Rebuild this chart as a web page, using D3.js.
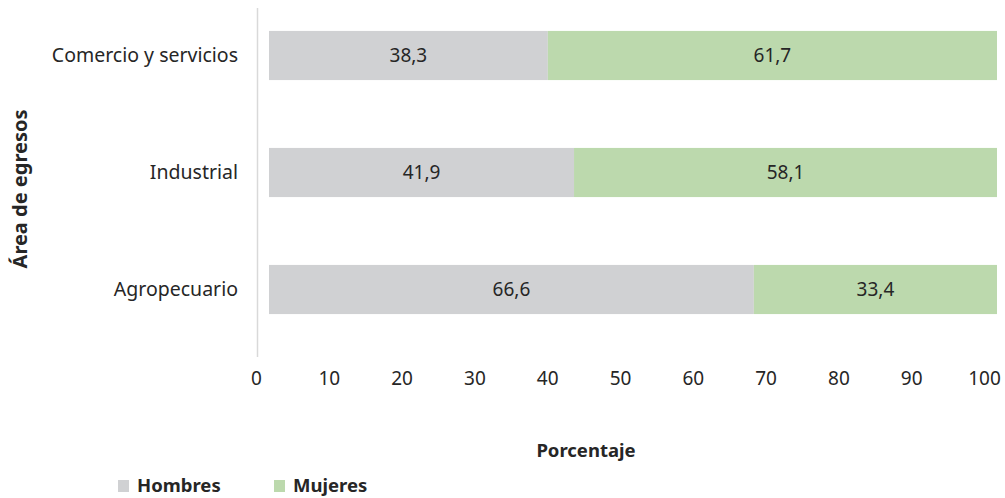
<!DOCTYPE html>
<html>
<head>
<meta charset="utf-8">
<script src="https://cdn.jsdelivr.net/npm/d3@7"></script>
<style>
  body { margin: 0; background: #fff; }
  svg text { font-family: "Noto Sans", "Open Sans", sans-serif; fill: #262626; }
</style>
</head>
<body>
<div id="chart"></div>
<script>
var categories = ['Comercio y servicios', 'Industrial', 'Agropecuario'];
var hombres = [38.3, 41.9, 66.6];
var mujeres = [61.7, 58.1, 33.4];
var seriesNames = ['Hombres', 'Mujeres'];
var tickValues = [0, 10, 20, 30, 40, 50, 60, 70, 80, 90, 100];

var width = 1005, height = 498;
var colors = ['#d0d1d3', '#bcd9ad'];

var svg = d3.select('#chart').append('svg')
  .attr('width', width)
  .attr('height', height);

var x = d3.scaleLinear().domain([0, 100]).range([269, 997]);
var y = d3.scaleBand().domain(categories).range([-3, 348]).paddingInner(0.58).paddingOuter(0.29);

var rows = categories.map(function (c, i) {
  return { cat: c, Hombres: hombres[i], Mujeres: mujeres[i] };
});
var stack = d3.stack().keys(seriesNames)(rows);

// vertical axis line
svg.append('line')
  .attr('x1', 257.5).attr('x2', 257.5)
  .attr('y1', 8).attr('y2', 357)
  .attr('stroke', '#d9d9d9').attr('stroke-width', 1.5);

var layer = svg.selectAll('.layer')
  .data(stack)
  .enter().append('g')
  .attr('class', 'layer')
  .attr('fill', function (d, i) { return colors[i]; });

layer.selectAll('rect')
  .data(function (d) { return d; })
  .enter().append('rect')
  .attr('x', function (d) { return x(d[0]); })
  .attr('y', function (d) { return y(d.data.cat); })
  .attr('width', function (d) { return x(d[1]) - x(d[0]); })
  .attr('height', y.bandwidth());

layer.selectAll('text')
  .data(function (d) { return d; })
  .enter().append('text')
  .attr('x', function (d) { return (x(d[0]) + x(d[1])) / 2; })
  .attr('y', function (d) { return y(d.data.cat) + y.bandwidth() / 2; })
  .attr('dy', '0.35em')
  .attr('text-anchor', 'middle')
  .style('font-size', '19px')
  .text(function (d) { return String((d[1] - d[0]).toFixed(1)).replace('.', ','); });

// category labels
svg.append('g')
  .selectAll('text')
  .data(categories)
  .enter().append('text')
  .attr('x', 238)
  .attr('y', function (d) { return y(d) + y.bandwidth() / 2; })
  .attr('dy', '0.35em')
  .attr('text-anchor', 'end')
  .style('font-size', '19.5px')
  .text(function (d) { return d; });

// x axis labels (offset as in the original)
var xAxis = d3.axisBottom(x).tickValues(tickValues).tickSize(0).tickPadding(0);
var gx = svg.append('g')
  .attr('transform', 'translate(-13,371)')
  .call(xAxis);
gx.select('.domain').remove();
gx.selectAll('text')
  .style('font-size', '19px')
  .style('font-family', '"Noto Sans", sans-serif')
  .attr('fill', '#262626');

svg.append('text')
  .attr('x', 586)
  .attr('y', 457)
  .attr('text-anchor', 'middle')
  .style('font-size', '18.5px')
  .style('font-weight', 'bold')
  .text('Porcentaje');

svg.append('text')
  .attr('transform', 'translate(27,189) rotate(-90)')
  .attr('text-anchor', 'middle')
  .style('font-size', '20px')
  .style('font-weight', 'bold')
  .text('Área de egresos');

// legend
var legendX = [118, 274];
var legend = svg.append('g').selectAll('g')
  .data(seriesNames)
  .enter().append('g')
  .attr('transform', function (d, i) { return 'translate(' + legendX[i] + ',480)'; });
legend.append('rect')
  .attr('width', 11).attr('height', 12)
  .attr('fill', function (d, i) { return colors[i]; });
legend.append('text')
  .attr('x', 19)
  .attr('y', 12)
  .style('font-size', '18.5px')
  .style('font-weight', 'bold')
  .text(function (d) { return d; });
</script>
</body>
</html>
